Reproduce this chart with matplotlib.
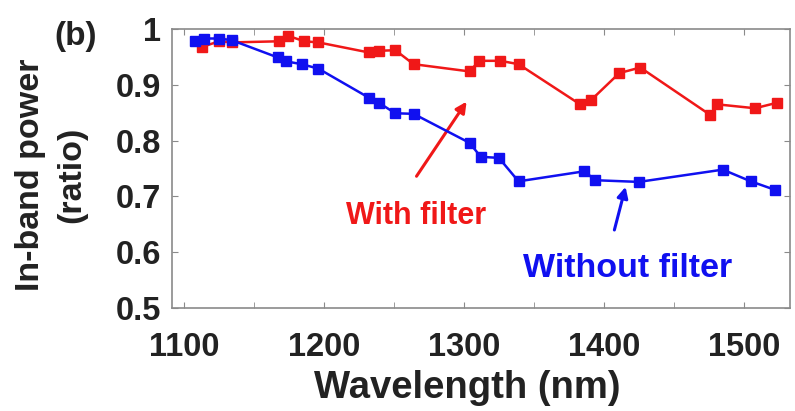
import matplotlib
matplotlib.use("Agg")
import matplotlib.pyplot as plt
from matplotlib.ticker import MultipleLocator

plt.rcParams['font.family'] = ['Liberation Sans', 'DejaVu Sans']
plt.rcParams['font.weight'] = 'bold'

# Data
wl_without = [1108, 1114, 1125, 1134, 1167, 1173, 1184, 1196, 1232, 1239, 1251, 1264,
              1304, 1312, 1325, 1339, 1386, 1394, 1425, 1485, 1505, 1522]
p_without = [0.979, 0.983, 0.983, 0.980, 0.949, 0.942, 0.937, 0.929, 0.877, 0.868, 0.849, 0.848,
             0.796, 0.771, 0.769, 0.727, 0.745, 0.729, 0.726, 0.748, 0.727, 0.712]

wl_with = [1113, 1125, 1134, 1168, 1174, 1186, 1196, 1232, 1239, 1251, 1264,
           1304, 1311, 1326, 1339, 1383, 1391, 1411, 1426, 1476, 1481, 1508, 1524]
p_with = [0.968, 0.978, 0.976, 0.978, 0.988, 0.978, 0.976, 0.958, 0.961, 0.962, 0.937,
          0.924, 0.943, 0.943, 0.937, 0.865, 0.873, 0.921, 0.931, 0.846, 0.865, 0.858, 0.868]

x_ticks = [1100, 1200, 1300, 1400, 1500]
y_ticks = [0.5, 0.6, 0.7, 0.8, 0.9, 1.0]
y_ticklabels = ['0.5', '0.6', '0.7', '0.8', '0.9', '1']

RED = '#f01818'
BLUE = '#1010f0'
DARK = '#222222'

fig = plt.figure(figsize=(7.95, 4.11), dpi=100)
ax = fig.add_axes([0.2164, 0.2506, 0.9937 - 0.2164, 0.9294 - 0.2506])

ax.plot(wl_with, p_with, '-s', color=RED, lw=1.8, ms=6.5, mec=RED, mfc=RED, zorder=3)
ax.plot(wl_without, p_without, '-s', color=BLUE, lw=1.8, ms=6.5, mec=BLUE, mfc=BLUE, zorder=4)

ax.set_xlim(1091.4, 1533)
ax.set_ylim(0.5, 1.0)
ax.set_xticks(x_ticks)
ax.xaxis.set_minor_locator(MultipleLocator(50))
ax.set_yticks(y_ticks)
ax.set_yticklabels(y_ticklabels)

for s in ax.spines.values():
    s.set_color('#8a8a8a')
    s.set_linewidth(1.2)

ax.tick_params(axis='both', which='both', direction='in', top=True, right=True,
               color='#8a8a8a', labelsize=23.5, labelcolor=DARK)
ax.tick_params(which='major', length=4)
ax.tick_params(which='minor', length=4)
ax.tick_params(axis='y', pad=8)
ax.tick_params(axis='x', pad=17)

ax.set_xlabel('Wavelength (nm)', fontsize=27.5, fontweight='bold', color=DARK, labelpad=5)
ax.xaxis.label.set_x(0.477)

fig.text(51 / 795, 1 - 175 / 411, 'In-band power\n(ratio)', rotation=90,
         fontsize=24.5, fontweight='bold', color=DARK, ha='center', va='center',
         linespacing=1.45, multialignment='center')

fig.text(0.095, 0.912, '(b)', fontsize=24, fontweight='bold', color=DARK,
         ha='center', va='center')

ax.annotate('', xy=(1303, 0.874), xytext=(1265, 0.732),
            arrowprops=dict(arrowstyle='-|>', color=RED, lw=2.2, mutation_scale=16))
ax.text(1266, 0.665, 'With filter', color=RED, fontsize=22, fontweight='bold',
        ha='center', va='center')

ax.annotate('', xy=(1416, 0.722), xytext=(1407, 0.635),
            arrowprops=dict(arrowstyle='-|>', color=BLUE, lw=2.2, mutation_scale=16))
ax.text(1417, 0.57, 'Without filter', color=BLUE, fontsize=24.5, fontweight='bold',
        ha='center', va='center')

fig.savefig('out.png', dpi=100)
